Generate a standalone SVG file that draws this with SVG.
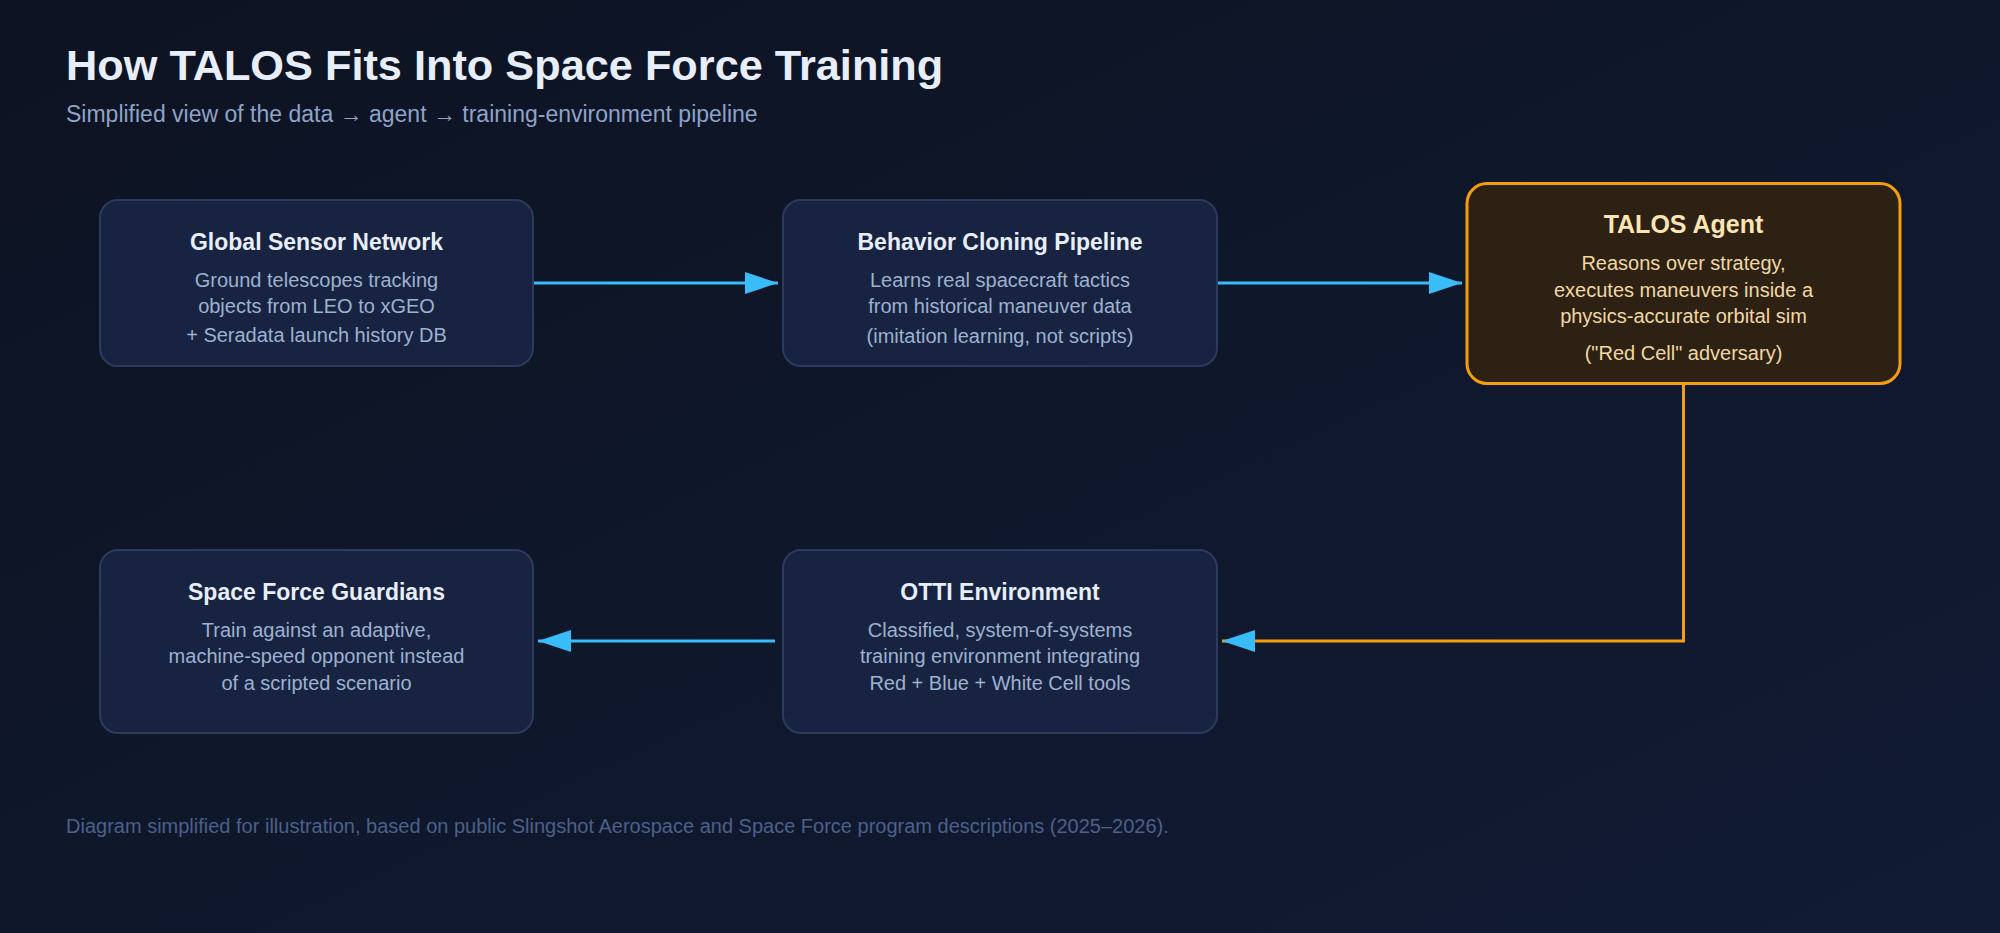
<svg xmlns="http://www.w3.org/2000/svg" width="2000" height="933" viewBox="0 0 2000 933">
  <defs>
    <linearGradient id="bg" x1="0" y1="0" x2="1" y2="1">
      <stop offset="0" stop-color="#0d1322"/>
      <stop offset="1" stop-color="#111b34"/>
    </linearGradient>
    <marker id="ah" markerUnits="userSpaceOnUse" markerWidth="34" markerHeight="22" refX="33" refY="11" orient="auto">
      <path d="M0,0 L33,11 L0,22 z" fill="#38bdf8"/>
    </marker>
    <style>
      .box { fill: #172340; stroke: #2d3b5a; stroke-width: 2; }
      .hot { fill: #2c2113; stroke: #f59e0b; stroke-width: 3; }
      .t { font-family: "Liberation Sans", Arial, sans-serif; font-weight: bold; font-size: 23px; fill: #e8eef9; text-anchor: middle; }
      .b { font-family: "Liberation Sans", Arial, sans-serif; font-size: 20px; fill: #9db1d1; text-anchor: middle; }
      .th { font-family: "Liberation Sans", Arial, sans-serif; font-weight: bold; font-size: 25px; fill: #fde4b4; text-anchor: middle; }
      .bh { font-family: "Liberation Sans", Arial, sans-serif; font-size: 20px; fill: #f1d7a3; text-anchor: middle; }
      .c { fill: none; stroke: #38bdf8; stroke-width: 3; }
      .co { fill: none; stroke: #f59e0b; stroke-width: 3; }
    </style>
  </defs>
  <rect x="0" y="0" width="2000" height="933" fill="url(#bg)"/>

  <text x="66" y="80" font-family="'Liberation Sans', Arial, sans-serif" font-weight="bold" font-size="43.3" fill="#e8eef9">How TALOS Fits Into Space Force Training</text>
  <text x="66" y="122" font-family="'Liberation Sans', Arial, sans-serif" font-size="23" fill="#8ea3c8">Simplified view of the data → agent → training-environment pipeline</text>

  <g id="connectors">
    <line class="c" x1="533" y1="283" x2="778" y2="283" marker-end="url(#ah)"/>
    <line class="c" x1="1217" y1="283" x2="1462" y2="283" marker-end="url(#ah)"/>
    <polyline class="co" points="1683.5,383 1683.5,641 1222,641" marker-end="url(#ah)"/>
    <line class="c" x1="775" y1="641" x2="538" y2="641" marker-end="url(#ah)"/>
  </g>

  <g id="sensor">
    <rect class="box" x="100" y="200" width="433" height="166" rx="18"/>
    <text class="t" x="316.5" y="250">Global Sensor Network</text>
    <text class="b" x="316.5" y="287">Ground telescopes tracking</text>
    <text class="b" x="316.5" y="313">objects from LEO to xGEO</text>
    <text class="b" x="316.5" y="342">+ Seradata launch history DB</text>
  </g>

  <g id="cloning">
    <rect class="box" x="783" y="200" width="434" height="166" rx="18"/>
    <text class="t" x="1000" y="250">Behavior Cloning Pipeline</text>
    <text class="b" x="1000" y="287">Learns real spacecraft tactics</text>
    <text class="b" x="1000" y="313">from historical maneuver data</text>
    <text class="b" x="1000" y="343">(imitation learning, not scripts)</text>
  </g>

  <g id="talos">
    <rect class="hot" x="1467" y="183.5" width="433" height="200" rx="20"/>
    <text class="th" x="1683.5" y="233">TALOS Agent</text>
    <text class="bh" x="1683.5" y="270">Reasons over strategy,</text>
    <text class="bh" x="1683.5" y="297">executes maneuvers inside a</text>
    <text class="bh" x="1683.5" y="323">physics-accurate orbital sim</text>
    <text class="bh" x="1683.5" y="360">("Red Cell" adversary)</text>
  </g>

  <g id="guardians">
    <rect class="box" x="100" y="550" width="433" height="183" rx="18"/>
    <text class="t" x="316.5" y="600">Space Force Guardians</text>
    <text class="b" x="316.5" y="637">Train against an adaptive,</text>
    <text class="b" x="316.5" y="663">machine-speed opponent instead</text>
    <text class="b" x="316.5" y="690">of a scripted scenario</text>
  </g>

  <g id="otti">
    <rect class="box" x="783" y="550" width="434" height="183" rx="18"/>
    <text class="t" x="1000" y="600">OTTI Environment</text>
    <text class="b" x="1000" y="637">Classified, system-of-systems</text>
    <text class="b" x="1000" y="663">training environment integrating</text>
    <text class="b" x="1000" y="690">Red + Blue + White Cell tools</text>
  </g>

  <text x="66" y="833" font-family="'Liberation Sans', Arial, sans-serif" font-size="20" fill="#4c6088">Diagram simplified for illustration, based on public Slingshot Aerospace and Space Force program descriptions (2025–2026).</text>
</svg>
